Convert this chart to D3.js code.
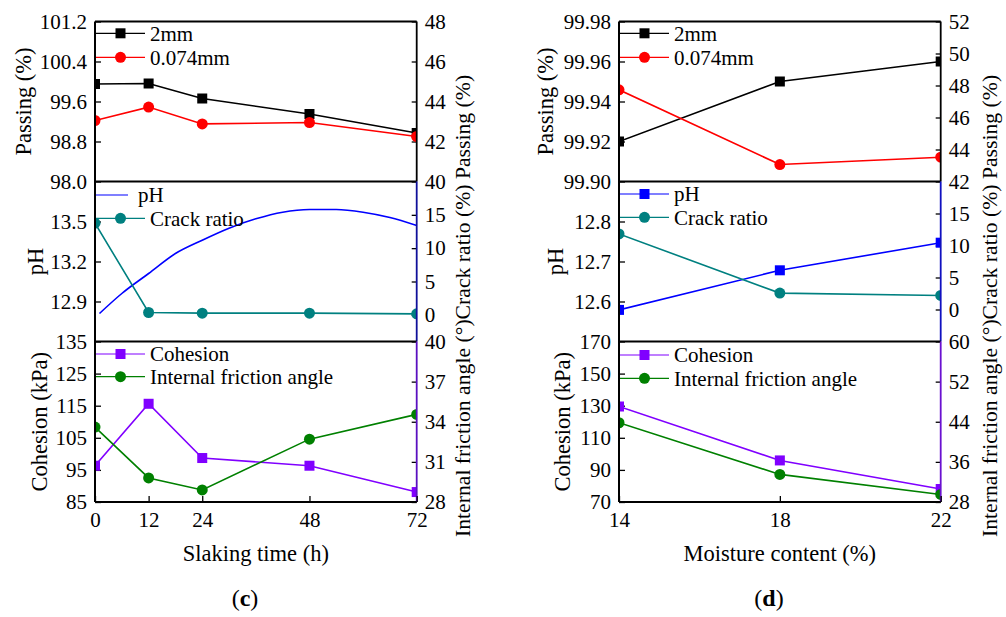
<!DOCTYPE html>
<meta charset='utf-8'>
<head>
  <title>Slaking time and moisture content</title>
</head>

<style>
body {
  margin: 0;
  background: #fff;
}
</style>

<body>
  <svg width='1006' height='617'></svg>

  <script src='https://cdn.jsdelivr.net/npm/d3@7'></script>
  <script>
// (c) slaking time
var slakingTime = [0, 12, 24, 48, 72];
var slakingPass2 = [99.95, 99.96, 99.66, 99.35, 98.97];
var slakingPass0074 = [43.05, 43.72, 42.88, 42.95, 42.25];
var slakingPhTime = [1, 6, 12, 18, 24, 30, 36, 42, 48, 54, 60, 66, 72];
var slakingPh = [12.81, 12.96, 13.11, 13.26, 13.36, 13.45, 13.52, 13.57, 13.59, 13.59, 13.57, 13.53, 13.47];
var slakingCrack = [13.75, 0.35, 0.25, 0.25, 0.15];
var slakingCohesion = [96.3, 115.6, 98.7, 96.3, 88.1];
var slakingFriction = [33.6, 29.8, 28.9, 32.7, 34.55];

// (d) moisture content
var moisture = [14, 18, 22];
var moisturePass2 = [99.92, 99.95, 99.96];
var moisturePass0074 = [47.73, 43.06, 43.52];
var moisturePh = [12.579, 12.678, 12.747];
var moistureCrack = [11.8, 2.56, 2.19];
var moistureCohesion = [129.5, 95.9, 78.1];
var moistureFriction = [43.8, 33.5, 29.5];

// tick labels
var slakingXTicks = [0, 12, 24, 48, 72];
var moistureXTicks = [14, 18, 22];

var FONT = '"Liberation Serif", "Times New Roman", Times, "DejaVu Serif", serif';
var svg = d3.select('svg');
var bands = [[21.5, 181.5], [181.5, 341.5], [341.5, 502]];

function zip(xs, ys) {
  return xs.map(function(x, i) { return [x, ys[i]]; });
}

function label(sel, size) {
  return sel.style('font-family', FONT).style('font-size', size + 'px').attr('fill', '#000');
}

function drawMarker(g, type, color, x, y) {
  if(type === 'square') {
    g.append('rect')
      .attr('x', x - 5).attr('y', y - 5)
      .attr('width', 10).attr('height', 10)
      .attr('fill', color);
  } else if(type === 'circle') {
    g.append('circle')
      .attr('cx', x).attr('cy', y).attr('r', 5.5)
      .attr('fill', color);
  }
}

function styleAxis(g) {
  g.attr('font-size', null).attr('font-family', null);
  g.select('.domain').remove();
  g.selectAll('.tick line').attr('stroke', '#000').attr('stroke-width', 1.3);
  label(g.selectAll('.tick text'), 21);
}

function drawPanel(p, pi) {
  var x = d3.scaleLinear().domain(p.xDomain).range(p.xRange);
  var x0 = p.xRange[0], x1 = p.xRange[1];

  p.subs.forEach(function(s, si) {
    var band = bands[si];
    var yl = d3.scaleLinear().domain(s.left.domain).range([band[1], band[0]]);
    var yr = d3.scaleLinear().domain(s.right.domain).range([band[1], band[0]]);

    var clipId = 'clip' + pi + '_' + si;
    svg.append('clipPath').attr('id', clipId)
      .append('rect')
      .attr('x', x0).attr('y', band[0])
      .attr('width', x1 - x0).attr('height', band[1] - band[0]);

    // axes
    svg.append('g')
      .attr('transform', 'translate(' + x0 + ',0)')
      .call(d3.axisLeft(yl).tickValues(s.left.ticks).tickFormat(d3.format(s.left.fmt))
        .tickSizeInner(-6).tickSizeOuter(0).tickPadding(8))
      .call(styleAxis);

    svg.append('g')
      .attr('transform', 'translate(' + x1 + ',0)')
      .call(d3.axisRight(yr).tickValues(s.right.ticks).tickFormat(d3.format(s.right.fmt))
        .tickSizeInner(-5).tickSizeOuter(0).tickPadding(8))
      .call(styleAxis);

    // left title
    var yc = (band[0] + band[1]) / 2;
    svg.append('text')
      .call(label, 22.5)
      .attr('text-anchor', 'middle')
      .attr('transform', 'translate(' + s.left.titleX + ',' + yc + ') rotate(-90)')
      .text(s.left.title);

    // series
    var plot = svg.append('g').attr('clip-path', 'url(#' + clipId + ')');
    s.series.forEach(function(ser) {
      var ys = ser.axis === 'right' ? yr : yl;
      var pts = zip(ser.x, ser.y);
      var line = d3.line()
        .x(function(d) { return x(d[0]); })
        .y(function(d) { return ys(d[1]); });
      if(ser.smooth) line.curve(d3.curveMonotoneX);
      plot.append('path')
        .attr('d', line(pts))
        .attr('fill', 'none')
        .attr('stroke', ser.color)
        .attr('stroke-width', 1.6);
      pts.forEach(function(d) {
        drawMarker(plot, ser.marker, ser.color, x(d[0]), ys(d[1]));
      });
    });

    // legend
    var leg = svg.append('g');
    s.series.forEach(function(ser, li) {
      var ly = s.legendY[li];
      var len = ser.legendLen || 50;
      leg.append('line')
        .attr('x1', x0).attr('x2', x0 + len)
        .attr('y1', ly).attr('y2', ly)
        .attr('stroke', ser.color).attr('stroke-width', 1.2);
      if(ser.marker) drawMarker(leg, ser.marker, ser.color, x0 + 25.5, ly);
      leg.append('text')
        .call(label, 21)
        .attr('x', x0 + len + 5 + (ser.legendLen ? 5 : 0))
        .attr('y', ly)
        .attr('dy', '0.35em')
        .text(ser.name);
    });

    // frame
    svg.append('line')
      .attr('x1', x0).attr('x2', x1).attr('y1', band[0]).attr('y2', band[0])
      .attr('stroke', '#000').attr('stroke-width', 2);
    svg.append('line')
      .attr('x1', x1).attr('x2', x1).attr('y1', band[0]).attr('y2', band[1])
      .attr('stroke', s.spine).attr('stroke-width', 1.8);
  });

  svg.append('line')
    .attr('x1', x0).attr('x2', x0).attr('y1', bands[0][0]).attr('y2', bands[2][1])
    .attr('stroke', '#000').attr('stroke-width', 2);
  svg.append('line')
    .attr('x1', x0).attr('x2', x1).attr('y1', bands[2][1]).attr('y2', bands[2][1])
    .attr('stroke', '#000').attr('stroke-width', 2);

  // x axis
  svg.append('g')
    .attr('transform', 'translate(0,' + bands[2][1] + ')')
    .call(d3.axisBottom(x).tickValues(p.xTicks).tickSizeInner(-6).tickSizeOuter(0).tickPadding(10))
    .call(styleAxis);

  svg.append('text')
    .call(label, 22.5)
    .attr('text-anchor', 'middle')
    .attr('x', (x0 + x1) / 2).attr('y', 561)
    .text(p.xTitle);

  svg.append('text')
    .call(label, 21.7)
    .attr('transform', 'translate(' + p.rightTitleX + ',537) rotate(-90)')
    .text('Internal friction angle (°)Crack ratio (%) Passing (%)');

  var cap = svg.append('text')
    .call(label, 24)
    .attr('text-anchor', 'middle')
    .attr('x', p.captionX).attr('y', 606);
  cap.append('tspan').text('(');
  cap.append('tspan').attr('font-weight', 'bold').text(p.caption);
  cap.append('tspan').text(')');
}

var panels = [
  {
    xRange: [95, 416.7], xDomain: [0, 72], xTicks: slakingXTicks,
    xTitle: 'Slaking time (h)', rightTitleX: 470, caption: 'c', captionX: 245,
    subs: [
      {
        left: { domain: [98.0, 101.2], ticks: [98.0, 98.8, 99.6, 100.4, 101.2], fmt: '.1f', title: 'Passing (%)', titleX: 31 },
        right: { domain: [40, 48], ticks: [40, 42, 44, 46, 48], fmt: 'd' },
        spine: '#000', legendY: [33.3, 57.3],
        series: [
          { name: '2mm', x: slakingTime, y: slakingPass2, axis: 'left', color: '#000', marker: 'square' },
          { name: '0.074mm', x: slakingTime, y: slakingPass0074, axis: 'right', color: '#ff0000', marker: 'circle' }
        ]
      },
      {
        left: { domain: [12.6, 13.8], ticks: [12.9, 13.2, 13.5], fmt: '.1f', title: 'pH', titleX: 43 },
        right: { domain: [-4, 20], ticks: [0, 5, 10, 15], fmt: 'd' },
        spine: '#10109a', legendY: [195, 218.3],
        series: [
          { name: 'pH', x: slakingPhTime, y: slakingPh, axis: 'left', color: '#0000ff', marker: null, smooth: true, legendLen: 33 },
          { name: 'Crack ratio', x: slakingTime, y: slakingCrack, axis: 'right', color: '#008080', marker: 'circle' }
        ]
      },
      {
        left: { domain: [85, 135], ticks: [85, 95, 105, 115, 125, 135], fmt: 'd', title: 'Cohesion (kPa)', titleX: 47 },
        right: { domain: [28, 40], ticks: [28, 31, 34, 37, 40], fmt: 'd' },
        spine: '#5a10c0', legendY: [354, 376.7],
        series: [
          { name: 'Cohesion', x: slakingTime, y: slakingCohesion, axis: 'left', color: '#8000ff', marker: 'square' },
          { name: 'Internal friction angle', x: slakingTime, y: slakingFriction, axis: 'right', color: '#008000', marker: 'circle' }
        ]
      }
    ]
  },
  {
    xRange: [619, 940.7], xDomain: [14, 22], xTicks: moistureXTicks,
    xTitle: 'Moisture content (%)', rightTitleX: 997, caption: 'd', captionX: 769,
    subs: [
      {
        left: { domain: [99.90, 99.98], ticks: [99.90, 99.92, 99.94, 99.96, 99.98], fmt: '.2f', title: 'Passing (%)', titleX: 553 },
        right: { domain: [42, 52], ticks: [42, 44, 46, 48, 50, 52], fmt: 'd' },
        spine: '#000', legendY: [33.3, 57.3],
        series: [
          { name: '2mm', x: moisture, y: moisturePass2, axis: 'left', color: '#000', marker: 'square' },
          { name: '0.074mm', x: moisture, y: moisturePass0074, axis: 'right', color: '#ff0000', marker: 'circle' }
        ]
      },
      {
        left: { domain: [12.5, 12.9], ticks: [12.6, 12.7, 12.8], fmt: '.1f', title: 'pH', titleX: 563 },
        right: { domain: [-5, 20], ticks: [0, 5, 10, 15], fmt: 'd' },
        spine: '#1010c0', legendY: [194, 217.3],
        series: [
          { name: 'pH', x: moisture, y: moisturePh, axis: 'left', color: '#0000ff', marker: 'square' },
          { name: 'Crack ratio', x: moisture, y: moistureCrack, axis: 'right', color: '#008080', marker: 'circle' }
        ]
      },
      {
        left: { domain: [70, 170], ticks: [70, 90, 110, 130, 150, 170], fmt: 'd', title: 'Cohesion (kPa)', titleX: 570 },
        right: { domain: [28, 60], ticks: [28, 36, 44, 52, 60], fmt: 'd' },
        spine: '#6a10d0', legendY: [355, 378.3],
        series: [
          { name: 'Cohesion', x: moisture, y: moistureCohesion, axis: 'left', color: '#8000ff', marker: 'square' },
          { name: 'Internal friction angle', x: moisture, y: moistureFriction, axis: 'right', color: '#008000', marker: 'circle' }
        ]
      }
    ]
  }
];

panels.forEach(drawPanel);
  </script>
</body>
</html>
